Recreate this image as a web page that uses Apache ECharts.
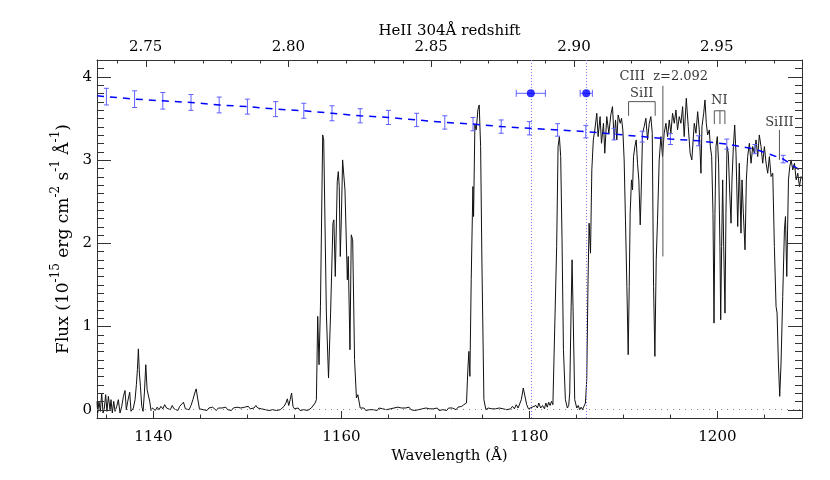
<!DOCTYPE html>
<html>
<head>
<meta charset="utf-8">
<script src="https://cdn.jsdelivr.net/npm/echarts@6.0.0/dist/echarts.min.js"></script>
<style>
  html, body { margin: 0; padding: 0; background: #fff; }
  #chart { width: 830px; height: 480px; }
</style>
</head>
<body>
<div id="chart"></div>
<script>
// observed spectrum [wavelength (A), flux (1e-15 erg/cm2/s/A)]
var spectrum = [
  [1134.0,0.10],[1134.07,-0.04],[1134.21,0.10],[1134.36,-0.02],[1134.5,0.20],[1134.64,-0.04],[1134.78,0.02],
  [1134.92,0.18],[1135.06,-0.02],[1135.21,0.16],[1135.39,0.0],[1135.49,0.12],[1135.63,-0.04],[1135.78,0.10],
  [1135.92,-0.02],[1136.1,0.04],[1136.27,0.12],[1136.45,-0.04],[1136.63,0.04],[1136.81,0.16],[1136.98,0.23],
  [1137.12,0.0],[1137.27,0.10],[1137.48,0.21],[1137.62,-0.02],[1137.87,0.02],[1138.05,0.12],[1138.19,0.30],
  [1138.3,0.48],[1138.4,0.73],[1138.51,0.44],[1138.62,0.28],[1138.76,0.04],[1138.9,-0.02],[1139.04,0.20],
  [1139.19,0.54],[1139.33,0.24],[1139.47,0.26],[1139.61,0.10],[1139.75,-0.01],[1139.9,0.02],
  [1140.0,0.02],[1140.2,-0.01],[1140.4,0.03],[1140.6,0.0],[1140.8,0.04],[1141.0,0.01],[1141.2,0.06],[1141.4,0.02],
  [1141.6,0.04],[1141.8,0.0],[1142.0,0.05],[1142.2,0.01],[1142.4,0.03],[1142.6,-0.01],[1142.8,0.04],[1143.0,0.02],
  [1143.2,0.09],[1143.4,0.01],[1143.6,0.03],[1143.8,0.0],[1144.0,0.05],[1144.2,0.12],[1144.4,0.20],[1144.55,0.25],
  [1144.7,0.14],[1144.9,0.01],[1145.1,0.03],[1145.3,0.0],[1145.5,0.02],[1145.7,-0.01],[1145.9,0.02],[1146.1,0.0],
  [1146.3,0.03],[1146.5,0.01],[1146.7,-0.01],[1146.9,0.02],[1147.1,0.0],[1147.3,0.02],[1147.5,0.01],[1147.7,0.03],
  [1147.9,0.0],[1148.1,0.02],[1148.3,-0.01],[1148.5,0.02],[1148.7,0.0],[1148.9,0.03],[1149.1,0.01],[1149.3,0.02],
  [1149.5,0.0],[1149.7,0.03],[1149.9,0.01],[1150.1,0.04],[1150.3,0.01],[1150.5,0.03],[1150.7,0.02],[1150.9,0.05],
  [1151.1,0.02],[1151.3,0.04],[1151.5,0.01],[1151.7,0.02],[1151.9,0.0],[1152.1,0.02],[1152.3,-0.01],[1152.5,0.01],
  [1152.7,0.0],[1152.9,0.02],[1153.1,-0.01],[1153.3,0.01],[1153.5,0.0],[1153.7,0.02],[1153.9,0.04],[1154.1,0.08],
  [1154.25,0.13],[1154.4,0.05],[1154.55,0.12],[1154.7,0.20],[1154.85,0.04],[1155.0,0.01],[1155.2,0.0],[1155.4,0.02],
  [1155.6,-0.01],[1155.8,0.01],[1156.0,0.0],[1156.2,0.02],[1156.4,-0.01],[1156.6,0.01],[1156.8,0.02],[1157.0,0.04],
  [1157.2,0.08],[1157.34,0.12],[1157.48,1.12],[1157.62,0.54],[1157.77,1.24],[1158.01,3.30],[1158.12,3.24],
  [1158.4,1.16],[1158.63,0.38],[1158.85,1.16],[1159.1,2.24],[1159.2,2.28],[1159.35,1.60],[1159.56,2.74],
  [1159.67,2.86],[1159.77,2.68],[1159.88,1.84],[1159.99,2.28],[1160.13,3.00],[1160.23,2.98],[1160.38,2.64],
  [1160.63,1.56],[1160.73,1.84],[1160.91,0.72],[1161.05,2.10],[1161.2,2.04],[1161.4,0.60],[1161.6,0.14],
  [1161.75,0.18],[1161.85,0.20],[1162.0,0.02],[1162.2,0.0],[1162.4,0.02],[1162.6,-0.01],[1162.8,0.01],[1163.0,0.0],
  [1163.2,0.02],[1163.4,0.0],[1163.6,0.01],[1163.8,-0.01],[1164.0,0.02],[1164.2,0.0],[1164.4,0.01],[1164.6,0.03],
  [1164.8,0.0],[1165.0,0.02],[1165.2,0.01],[1165.4,-0.01],[1165.6,0.02],[1165.8,0.0],[1166.0,0.03],[1166.2,0.01],
  [1166.4,0.02],[1166.6,0.0],[1166.8,0.02],[1167.0,0.01],[1167.2,0.03],[1167.4,0.0],[1167.6,0.02],[1167.8,-0.01],
  [1168.0,0.01],[1168.2,0.0],[1168.4,0.02],[1168.6,0.01],[1168.8,-0.01],[1169.0,0.02],[1169.2,0.0],[1169.4,0.01],
  [1169.6,-0.01],[1169.8,0.01],[1170.0,0.0],[1170.2,0.02],[1170.4,-0.01],[1170.6,0.01],[1170.8,0.0],[1171.0,0.01],
  [1171.2,-0.01],[1171.4,0.02],[1171.6,0.0],[1171.8,0.02],[1172.0,0.01],[1172.2,0.0],[1172.4,0.03],[1172.6,0.01],
  [1172.8,0.04],[1173.03,0.06],[1173.2,0.05],[1173.31,0.08],[1173.46,0.50],[1173.56,0.70],[1173.67,0.40],
  [1173.81,1.56],[1173.99,2.68],[1174.06,2.32],[1174.2,3.42],[1174.34,3.36],[1174.52,3.60],[1174.66,3.66],
  [1174.81,3.16],[1174.95,1.76],[1175.16,0.12],[1175.37,0.0],[1175.6,0.02],[1175.8,0.0],[1176.0,0.01],
  [1176.2,-0.01],[1176.4,0.01],[1176.6,0.0],[1176.8,0.02],[1177.0,0.0],[1177.2,0.01],[1177.4,0.03],[1177.6,0.0],
  [1177.8,0.02],[1178.0,0.01],[1178.2,0.04],[1178.4,0.01],[1178.6,0.06],[1178.8,0.02],[1179.0,0.04],
  [1179.14,0.12],[1179.35,0.26],[1179.5,0.26],[1179.71,0.06],[1179.9,0.01],[1180.1,0.0],[1180.3,0.03],
  [1180.5,0.01],[1180.7,0.05],[1180.85,0.02],[1181.0,0.08],[1181.2,0.02],[1181.4,0.05],[1181.6,0.01],
  [1181.75,0.08],[1181.9,0.03],[1182.05,0.09],[1182.2,0.05],[1182.35,0.10],[1182.5,0.06],[1182.69,0.08],
  [1182.9,1.96],[1183.05,3.16],[1183.19,3.28],[1183.33,3.04],[1183.47,2.04],[1183.62,0.72],[1183.83,0.12],
  [1184.04,0.02],[1184.18,0.05],[1184.29,0.20],[1184.43,1.16],[1184.54,1.80],[1184.64,1.24],[1184.82,0.12],
  [1185.04,0.02],[1185.2,0.05],[1185.35,0.0],[1185.5,0.03],[1185.65,0.0],[1185.8,0.04],[1185.96,0.08],
  [1186.1,0.36],[1186.24,1.56],[1186.35,2.24],[1186.5,1.88],[1186.64,2.88],[1186.8,3.24],[1186.96,3.36],
  [1187.17,3.56],[1187.31,3.28],[1187.52,3.52],[1187.67,3.20],[1187.88,3.44],[1188.02,3.08],[1188.23,3.52],
  [1188.45,3.32],[1188.66,3.54],[1188.84,3.64],[1189.02,3.24],[1189.16,3.48],[1189.3,3.24],[1189.44,3.54],
  [1189.66,3.44],[1189.8,3.50],[1189.94,3.36],[1190.08,3.00],[1190.22,2.28],[1190.37,1.48],[1190.51,0.66],
  [1190.62,1.48],[1190.72,2.36],[1190.86,2.76],[1190.97,2.64],[1191.08,3.04],[1191.22,3.16],[1191.36,3.24],
  [1191.5,2.96],[1191.64,2.76],[1191.79,2.22],[1191.9,2.64],[1192.04,3.32],[1192.21,3.40],[1192.39,3.50],
  [1192.57,3.24],[1192.75,3.44],[1192.92,3.52],[1193.07,3.32],[1193.21,1.48],[1193.35,0.64],[1193.49,1.80],
  [1193.63,2.28],[1193.81,3.00],[1193.99,3.28],[1194.16,3.04],[1194.34,3.32],[1194.52,3.44],[1194.7,3.28],
  [1194.88,3.48],[1195.05,3.32],[1195.23,3.56],[1195.41,3.44],[1195.59,3.60],[1195.76,3.36],[1195.94,3.52],
  [1196.12,3.44],[1196.3,3.64],[1196.47,3.28],[1196.69,3.74],[1196.9,3.40],[1197.1,3.08],[1197.28,3.00],
  [1197.54,3.44],[1197.72,3.32],[1197.9,3.58],[1198.07,3.36],[1198.25,2.84],[1198.36,3.40],[1198.54,3.56],
  [1198.68,3.72],[1198.82,3.44],[1198.96,3.30],[1199.14,3.36],[1199.25,3.16],[1199.39,3.04],[1199.53,2.36],
  [1199.64,1.04],[1199.74,2.36],[1199.85,3.16],[1199.99,3.28],[1200.13,2.96],[1200.27,1.96],[1200.35,1.08],
  [1200.45,1.96],[1200.56,2.76],[1200.67,1.96],[1200.81,1.16],[1200.91,2.36],[1201.02,3.16],[1201.16,3.08],
  [1201.3,2.64],[1201.45,2.24],[1201.55,2.76],[1201.7,3.16],[1201.84,3.42],[1201.98,3.08],[1202.16,2.20],
  [1202.33,2.96],[1202.51,2.12],[1202.62,2.76],[1202.76,2.36],[1202.94,1.92],[1203.08,2.76],[1203.22,3.04],
  [1203.4,3.20],[1203.58,2.96],[1203.76,3.16],[1203.93,3.08],[1204.11,3.24],[1204.29,3.04],[1204.46,3.30],
  [1204.64,3.16],[1204.82,2.96],[1205.0,3.16],[1205.18,2.96],[1205.35,2.84],[1205.53,3.04],[1205.71,2.80],
  [1205.89,2.84],[1206.06,1.96],[1206.24,1.24],[1206.35,1.16],[1206.49,0.56],[1206.63,0.16],[1206.77,0.56],
  [1206.95,1.36],[1207.13,2.16],[1207.24,2.32],[1207.38,1.60],[1207.56,2.76],[1207.7,2.92],[1207.84,3.00],
  [1208.02,2.88],[1208.2,2.96],[1208.38,2.76],[1208.55,2.84],[1208.73,2.68],[1208.9,2.80],[1209.1,2.76]
];

// continuum fit and its error bars
var errWave = [1135,1138,1141,1144,1147,1150,1153,1156,1159,1162,1165,1168,1171,1174,1177,1180,1183,1186,1189,1192,1195,1198,1201,1204,1207];
var errFlux = [3.76,3.73,3.71,3.69,3.66,3.64,3.61,3.59,3.56,3.53,3.51,3.48,3.45,3.43,3.40,3.38,3.36,3.34,3.31,3.28,3.25,3.23,3.19,3.13,3.01];
var errSig  = [0.10,0.10,0.10,0.095,0.095,0.09,0.09,0.09,0.09,0.085,0.085,0.08,0.08,0.08,0.08,0.08,0.075,0.075,0.07,0.065,0.065,0.06,0.06,0.055,0.045];
var contEnds = [[1134, 3.77], [1209, 2.86]];

// HeII edge points with horizontal errors
var edgeWave = [1180.15, 1186.05];
var edgeFlux = [3.80, 3.80];
var edgeErr  = [1.55, 0.65];

// line identifications
var idText = [
  [1194.3, 4.00, 'CIII  z=2.092'],
  [1191.95, 3.80, 'SiII'],
  [1200.2, 3.71, 'NI'],
  [1206.6, 3.45, 'SiIII']
];
var idLines = [
  [[1190.55, 3.53], [1190.55, 3.70], [1193.38, 3.70], [1193.38, 3.53]],
  [[1199.67, 3.43], [1199.67, 3.59], [1200.8, 3.59], [1200.8, 3.43]],
  [[1200.27, 3.59], [1200.27, 3.43]],
  [[1194.2, 3.89], [1194.2, 1.84]],
  [[1206.6, 3.36], [1206.6, 3.00]]
];

// ticks
var HEII = 303.78;
var waveMajor = [1140, 1160, 1180, 1200];
var waveMinor = [1135, 1145, 1150, 1155, 1165, 1170, 1175, 1185, 1190, 1195, 1205];
var zMajor = [2.75, 2.80, 2.85, 2.90, 2.95];
var zMinor = [2.74, 2.76, 2.77, 2.78, 2.79, 2.81, 2.82, 2.83, 2.84, 2.86, 2.87, 2.88, 2.89, 2.91, 2.92, 2.93, 2.94, 2.96, 2.97];
var fluxMajor = [0, 1, 2, 3, 4];
var fluxMinor = [0.1,0.2,0.3,0.4,0.5,0.6,0.7,0.8,0.9,1.1,1.2,1.3,1.4,1.5,1.6,1.7,1.8,1.9,2.1,2.2,2.3,2.4,2.5,2.6,2.7,2.8,2.9,3.1,3.2,3.3,3.4,3.5,3.6,3.7,3.8,3.9,4.1];

var FONT = 'DejaVu Serif';
var AX = '#333';
var XMIN = 1134, XMAX = 1209, YMIN = -0.1, YMAX = 4.2;

function toWave(z) { return HEII * (1 + z); }

function baseAxis(extra) {
  return Object.assign({
    type: 'value',
    nameMoveOverlap: false,
    axisLine: { show: true, onZero: false, lineStyle: { color: AX, width: 1 } },
    axisTick: { show: false },
    splitLine: { show: false }
  }, extra);
}

var labelStyle = { fontFamily: FONT, fontSize: 15, color: '#000' };

// inward ticks on all four sides: [x, y, length, side]
function tickRender(params, api) {
  var side = api.value(3), len = api.value(2);
  var st = { stroke: AX, lineWidth: 1 };
  var a, b;
  if (side === 0) {
    a = api.coord([api.value(0), YMIN]);
    var x = Math.round(a[0]) + 0.5;
    return { type: 'line', shape: { x1: x, y1: a[1], x2: x, y2: a[1] - len }, style: st };
  }
  if (side === 1) {
    b = api.coord([api.value(0), YMAX]);
    var xt = Math.round(b[0]) + 0.5;
    return { type: 'line', shape: { x1: xt, y1: b[1], x2: xt, y2: b[1] + len }, style: st };
  }
  a = api.coord([XMIN, api.value(1)]); b = api.coord([XMAX, api.value(1)]);
  var y = Math.round(a[1]) + 0.5;
  return { type: 'group', children: [
    { type: 'line', shape: { x1: a[0], y1: y, x2: a[0] + len, y2: y }, style: st },
    { type: 'line', shape: { x1: b[0], y1: y, x2: b[0] - len, y2: y }, style: st }
  ]};
}

function vErr(params, api) {
  var x = api.value(0), y = api.value(1), s = api.value(2);
  var hi = api.coord([x, y + s]), lo = api.coord([x, y - s]);
  var w = 2.5, st = { stroke: '#5f5fff', lineWidth: 1 };
  return { type: 'group', children: [
    { type: 'line', shape: { x1: hi[0], y1: hi[1], x2: lo[0], y2: lo[1] }, style: st },
    { type: 'line', shape: { x1: hi[0] - w, y1: hi[1], x2: hi[0] + w, y2: hi[1] }, style: st },
    { type: 'line', shape: { x1: lo[0] - w, y1: lo[1], x2: lo[0] + w, y2: lo[1] }, style: st }
  ]};
}

function hErr(params, api) {
  var x = api.value(0), y = api.value(1), s = api.value(2);
  var l = api.coord([x - s, y]), r = api.coord([x + s, y]);
  var h = 3.5, st = { stroke: '#5f5fff', lineWidth: 1 };
  return { type: 'group', children: [
    { type: 'line', shape: { x1: l[0], y1: l[1], x2: r[0], y2: r[1] }, style: st },
    { type: 'line', shape: { x1: l[0], y1: l[1] - h, x2: l[0], y2: l[1] + h }, style: st },
    { type: 'line', shape: { x1: r[0], y1: r[1] - h, x2: r[0], y2: r[1] + h }, style: st }
  ]};
}

var tickData = []
  .concat(waveMajor.map(function(v) { return [v, YMIN, 7, 0]; }))
  .concat(waveMinor.map(function(v) { return [v, YMIN, 3.5, 0]; }))
  .concat(zMajor.map(function(z) { return [toWave(z), YMAX, 7, 1]; }))
  .concat(zMinor.map(function(z) { return [toWave(z), YMAX, 3.5, 1]; }))
  .concat(fluxMajor.map(function(v) { return [XMIN, v, 14, 2]; }))
  .concat(fluxMinor.map(function(v) { return [XMIN, v, 7, 2]; }));

var contLine = [contEnds[0]].concat(errWave.map(function(w, i) { return [w, errFlux[i]]; }), [contEnds[1]]);
var errData = errWave.map(function(w, i) { return [w, errFlux[i], errSig[i]]; });
var edgeData = edgeWave.map(function(w, i) { return [w, edgeFlux[i], edgeErr[i]]; });

var chart = echarts.init(document.getElementById('chart'), null, { renderer: 'canvas' });

chart.setOption({
  animation: false,
  backgroundColor: '#fff',
  grid: { left: 97, right: 28, top: 60, bottom: 62, outerBoundsMode: 'none' },
  xAxis: [
    baseAxis({
      position: 'bottom', min: XMIN, max: XMAX,
      name: 'Wavelength (Å)', nameLocation: 'middle', nameGap: 31,
      nameTextStyle: labelStyle,
      axisLabel: Object.assign({ customValues: waveMajor, margin: 12, formatter: function(v) { return String(v); } }, labelStyle)
    }),
    baseAxis({
      position: 'top', min: XMIN, max: XMAX,
      name: 'HeII 304Å redshift', nameLocation: 'middle', nameGap: 21,
      nameTextStyle: labelStyle,
      axisLabel: Object.assign({ customValues: zMajor.map(toWave), margin: 5,
        formatter: function(v) { return (v / HEII - 1).toFixed(2); } }, labelStyle)
    })
  ],
  yAxis: [
    baseAxis({
      position: 'left', min: YMIN, max: YMAX,
      axisLabel: Object.assign({ customValues: fluxMajor, margin: 5 }, labelStyle),
      name: '{a|Flux (10}{s|-15}{a| erg cm}{s|-2}{a| s}{s|-1}{a| Å}{s|-1}{a|)}',
      nameLocation: 'middle', nameGap: 25, nameRotate: 90,
      nameTextStyle: {
        fontFamily: FONT, fontSize: 17, color: '#000',
        rich: {
          a: { fontFamily: FONT, fontSize: 17, color: '#000', lineHeight: 22, verticalAlign: 'bottom' },
          s: { fontFamily: FONT, fontSize: 12, color: '#000', lineHeight: 22, verticalAlign: 'top' }
        }
      }
    }),
    baseAxis({ position: 'right', min: YMIN, max: YMAX, axisLabel: { show: false } })
  ],
  series: [
    {
      name: 'spectrum', type: 'line', data: spectrum, showSymbol: false, symbol: 'none',
      lineStyle: { color: '#111', width: 1 }, z: 2,
      markLine: {
        silent: true, symbol: 'none', label: { show: false },
        data: [
          { yAxis: 0, lineStyle: { color: '#888', type: [1, 5], width: 1 } },
          { xAxis: edgeWave[0], lineStyle: { color: '#7a7aff', type: [1, 2], width: 1 } },
          { xAxis: edgeWave[1], lineStyle: { color: '#7a7aff', type: [1, 2], width: 1 } }
        ]
      }
    },
    {
      name: 'continuum', type: 'line', data: contLine, showSymbol: false, symbol: 'none',
      lineStyle: { color: '#0000ff', width: 1.5, type: [7, 6] }, z: 4
    },
    {
      name: 'contErr', type: 'custom', renderItem: vErr, data: errData,
      encode: { x: 0, y: 1 }, z: 4
    },
    {
      name: 'edgeErr', type: 'custom', renderItem: hErr, data: edgeData,
      encode: { x: 0, y: 1 }, z: 5
    },
    {
      name: 'edge', type: 'scatter', symbol: 'circle', symbolSize: 8,
      data: edgeWave.map(function(w, i) { return [w, edgeFlux[i]]; }),
      itemStyle: { color: '#0000ff' }, z: 6
    },
    {
      name: 'ids', type: 'lines', coordinateSystem: 'cartesian2d', polyline: true,
      data: idLines.map(function(c) { return { coords: c }; }),
      lineStyle: { color: '#555', width: 1, opacity: 1 }, z: 3
    },
    {
      name: 'idText', type: 'scatter', symbolSize: 0,
      data: idText.map(function(t) {
        return { value: [t[0], t[1]], label: { formatter: t[2] } };
      }),
      label: { show: true, position: 'inside', color: '#000', fontFamily: FONT, fontSize: 13 },
      z: 6
    },
    {
      name: 'ticks', type: 'custom', renderItem: tickRender, data: tickData,
      encode: { x: 0, y: 1 }, silent: true, z: 7
    }
  ]
});

window.addEventListener('resize', function() { chart.resize(); });
</script>
</body>
</html>
